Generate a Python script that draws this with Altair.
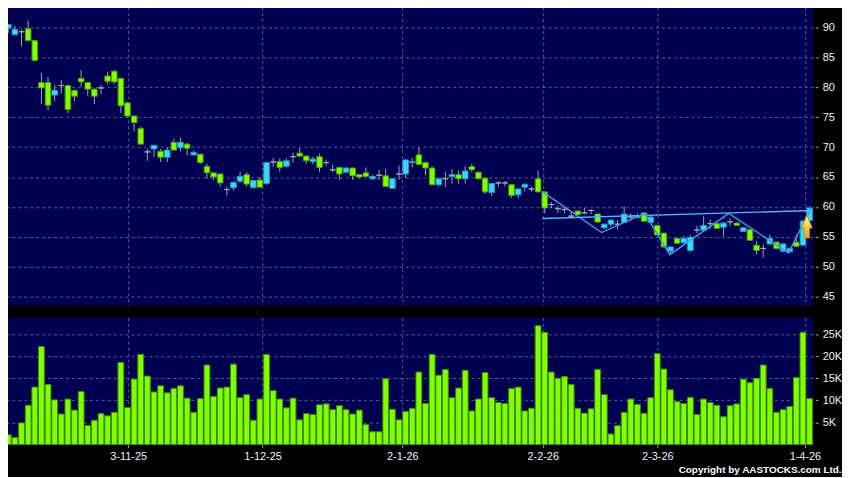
import altair as alt
import pandas as pd
import numpy as np

# ---------------- data ----------------
opens = [89.9, 88.8, 89.3, 89.8, 87.8, 80.8, 80.8, 78.7, 80.3, 80.3,
         79.5, 81.5, 80.8, 79.7, 79.9, 81.9, 82.7, 81.5, 77.4, 75.2,
         73.1, 69.2, 69.7, 69.3, 68.3, 70.8, 69.9, 70.5, 68.7, 68.8,
         66.8, 65.7, 65.5, 62.9, 63.2, 64.3, 65.4, 63.2, 64.5, 63.9,
         67.5, 67.6, 66.8, 68.4, 69.0, 68.5, 67.6, 68.4, 67.4, 66.2,
         66.6, 65.8, 66.5, 65.4, 65.7, 64.7, 65.3, 65.2, 63.1, 65.5,
         65.5, 67.4, 68.7, 67.4, 66.5, 63.7, 64.7, 65.1, 65.4, 64.7,
         66.75, 65.8, 64.8, 62.4, 64.0, 64.0, 63.7, 62.0, 63.3, 63.0,
         64.7, 62.5, 60.4, 59.7, 59.55, 58.45, 59.3, 59.0, 59.4, 58.8,
         56.5, 57.1, 57.1, 57.4, 58.3, 58.2, 59.0, 57.4, 56.9, 55.6,
         52.6, 54.7, 54.0, 52.7, 56.1, 56.1, 57.2, 57.2, 56.6, 57.5,
         57.3, 55.9, 56.2, 53.6, 53.05, 53.8, 54.1, 52.6, 52.5, 54.1,
         53.6, 57.7]
highs = [90.5, 90.3, 89.7, 91.2, 87.9, 82.4, 81.7, 80.4, 81.2, 80.4,
         79.6, 82.9, 80.9, 79.8, 80.4, 82.6, 82.9, 81.6, 77.6, 75.3,
         73.4, 69.7, 70.3, 69.7, 70.0, 71.4, 71.6, 70.7, 69.4, 68.9,
         67.2, 65.8, 65.6, 63.4, 64.3, 65.9, 65.8, 64.5, 65.0, 67.5,
         68.2, 68.1, 68.1, 69.1, 69.85, 68.6, 68.4, 68.9, 67.9, 67.1,
         66.7, 66.6, 66.6, 65.5, 66.6, 65.3, 66.2, 66.4, 64.8, 66.9,
         67.9, 68.2, 70.0, 67.6, 66.8, 64.8, 65.9, 66.3, 66.1, 66.8,
         67.2, 65.9, 64.9, 63.9, 64.3, 64.3, 63.8, 63.0, 64.0, 63.4,
         66.1, 62.6, 60.8, 60.2, 59.9, 59.2, 59.4, 59.8, 59.6, 58.9,
         57.2, 57.9, 57.8, 60.1, 58.9, 58.9, 59.1, 58.4, 57.0, 55.7,
         53.3, 54.9, 55.2, 55.3, 56.8, 58.4, 57.9, 57.3, 57.4, 58.1,
         57.4, 56.6, 56.3, 54.3, 53.7, 55.3, 54.2, 53.9, 53.1, 55.4,
         57.8, 60.1]
lows = [89.1, 88.7, 86.8, 87.7, 84.3, 77.2, 76.2, 77.7, 79.0, 75.7,
        77.7, 80.1, 78.6, 77.2, 78.8, 80.5, 80.5, 75.7, 75.1, 72.7,
        70.4, 67.7, 68.3, 67.5, 67.5, 69.4, 69.3, 68.6, 68.5, 67.2,
        64.7, 64.5, 63.4, 61.9, 62.7, 64.0, 63.4, 63.1, 63.2, 63.7,
        66.7, 65.9, 66.6, 67.4, 68.4, 67.2, 67.1, 65.8, 66.9, 65.8,
        64.5, 65.6, 64.5, 64.8, 65.0, 64.5, 64.5, 63.3, 63.0, 64.5,
        64.8, 66.6, 66.9, 65.3, 63.6, 63.4, 63.3, 63.9, 63.9, 63.9,
        65.8, 64.6, 62.2, 61.8, 63.4, 63.4, 61.5, 61.4, 62.6, 62.5,
        62.4, 58.9, 59.8, 59.0, 58.9, 58.0, 58.7, 58.8, 58.8, 57.4,
        56.3, 56.6, 56.2, 57.3, 57.7, 58.1, 57.5, 57.3, 55.2, 53.2,
        52.0, 53.8, 53.9, 52.4, 55.6, 55.9, 56.3, 56.3, 55.1, 56.8,
        56.8, 55.8, 54.3, 52.0, 51.5, 53.6, 52.9, 52.4, 52.3, 53.3,
        53.4, 57.6]
closes = [90.5, 89.7, 89.3, 87.8, 84.5, 79.9, 77.0, 79.5, 80.3, 76.3,
          78.5, 80.9, 79.7, 78.5, 79.9, 81.0, 80.9, 76.9, 75.2, 74.1,
          70.5, 69.2, 70.3, 68.3, 69.5, 69.5, 70.8, 69.8, 69.1, 67.4,
          65.7, 65.0, 64.0, 62.9, 64.1, 65.1, 63.8, 64.4, 63.3, 67.4,
          67.5, 66.6, 67.7, 68.4, 68.5, 67.7, 68.0, 66.6, 67.4, 66.2,
          65.5, 66.5, 65.2, 65.0, 65.1, 65.1, 65.3, 63.4, 64.7, 65.5,
          67.85, 67.6, 67.1, 66.5, 63.7, 64.7, 64.7, 65.4, 64.7, 66.0,
          66.2, 64.7, 62.5, 63.9, 64.0, 64.0, 61.9, 63.0, 63.75, 63.0,
          62.5, 59.8, 60.4, 59.7, 59.55, 58.45, 58.7, 59.0, 59.4, 57.45,
          57.1, 57.8, 57.1, 58.8, 58.3, 58.55, 57.6, 58.3, 55.3, 53.3,
          53.3, 53.9, 54.7, 54.9, 56.1, 56.9, 57.2, 56.4, 57.3, 57.5,
          56.9, 56.5, 54.4, 52.7, 53.05, 54.7, 53.0, 53.8, 53.05, 53.4,
          57.6, 59.8]
volume_k = [2.2, 1.6, 4.9, 8.9, 13.0, 22.2, 13.6, 10.1, 6.9, 10.3,
            7.8, 12.0, 4.3, 5.5, 7.0, 6.5, 7.3, 18.6, 8.4, 14.8,
            20.4, 15.5, 11.9, 13.3, 11.7, 12.7, 13.3, 10.5, 7.3, 10.4,
            18.0, 10.9, 12.8, 13.0, 18.2, 10.6, 11.3, 5.5, 10.3, 20.4,
            12.2, 10.3, 8.3, 10.5, 5.6, 7.0, 6.8, 9.0, 9.2, 7.9,
            8.8, 7.9, 6.9, 7.8, 4.5, 2.9, 2.9, 14.9, 8.0, 5.6,
            7.5, 8.2, 16.4, 9.3, 20.4, 15.7, 17.0, 10.6, 12.8, 16.8,
            7.6, 10.3, 16.3, 10.6, 9.5, 9.3, 12.7, 13.0, 7.6, 8.2,
            26.9, 25.4, 16.4, 15.0, 15.4, 13.6, 8.2, 7.1, 8.1, 17.0,
            11.3, 2.4, 4.3, 7.3, 10.3, 9.1, 7.1, 10.6, 20.6, 17.1,
            12.4, 9.7, 9.3, 10.7, 6.8, 10.3, 9.5, 8.9, 6.3, 8.8,
            9.2, 14.8, 14.0, 15.0, 18.0, 12.7, 7.3, 7.9, 8.6, 15.2,
            25.4, 10.4]

tick_pos = [18.1, 38.4, 59.5, 80.7, 98.0, 120.3]
tick_labels = ["3-11-25", "1-12-25", "2-1-26", "2-2-26", "2-3-26", "1-4-26"]
price_ticks = [45, 50, 55, 60, 65, 70, 75, 80, 85, 90]
vol_ticks = [5, 10, 15, 20, 25]
copyright_text = "Copyright by AASTOCKS.com Ltd."

# trend lines drawn on the chart
flat_x = [80.6, 121.55]
flat_y = [58.05, 59.4]
zig_x = [80.6, 89.6, 96.1, 99.9, 108.8, 117.8, 121.2]
zig_y = [62.6, 55.7, 58.9, 52.0, 58.9, 52.3, 59.6]
arrow_x = [120.6]
arrow_y = [56.7]

# ---------------- frames ----------------
n = len(opens)
df = pd.DataFrame({"i": np.arange(n), "o": opens, "h": highs, "l": lows,
                   "c": closes, "v": volume_k})
df["kind"] = np.where(df.c > df.o, "up", np.where(df.c < df.o, "down", "flat"))
df["x0"] = df.i - 0.42
df["x1"] = df.i + 0.42
df["vx0"] = df.i - 0.44
df["vx1"] = df.i + 0.44
df["top"] = df[["o", "c"]].max(axis=1)
df["bot"] = df[["o", "c"]].min(axis=1)

flat_df = pd.DataFrame({"x": flat_x, "y": flat_y})
zig_df = pd.DataFrame({"x": zig_x, "y": zig_y})
arrow_df = pd.DataFrame({"x": arrow_x, "y": arrow_y})

X_DOM = [-0.495, 121.55]
W = 814
font = "Liberation Sans"
label_expr = " : ".join(
    f"abs(datum.value - {p}) < 0.01 ? '{t}'" for p, t in zip(tick_pos, tick_labels)
) + " : ''"

xs_price = alt.Scale(domain=X_DOM, nice=False, zero=False)
ys_price = alt.Scale(domain=[43.49, 93.49], nice=False, zero=False)


def x_axis_price():
    return alt.Axis(values=tick_pos, labels=False, ticks=False, grid=True,
                    domain=False, title=None)


def y_axis_price():
    return alt.Axis(orient="right", values=price_ticks, grid=True, domain=False,
                    title=None, tickSize=3, offset=2, labelPadding=4,
                    labelOverlap=False, labelFlush=False)


def px(field):
    return alt.X(field, type="quantitative", scale=xs_price, axis=x_axis_price())


def py(field):
    return alt.Y(field, type="quantitative", scale=ys_price, axis=y_axis_price())


base = alt.Chart(df)

wicks = base.mark_rule(color="#a2a2b4", strokeWidth=1).encode(
    x=px("i"), y=py("l"), y2="h:Q",
)

bodies = base.mark_rect(strokeWidth=1).encode(
    x=px("x0"), x2="x1:Q",
    y=py("top"), y2="bot:Q",
    fill=alt.Fill("kind:N", legend=None,
                  scale=alt.Scale(domain=["up", "down", "flat"],
                                  range=["#36dcff", "#80ff00", "#a8a8b0"])),
    stroke=alt.Stroke("kind:N", legend=None,
                      scale=alt.Scale(domain=["up", "down", "flat"],
                                      range=["#2a95c0", "#4c9c00", "#a8a8b0"])),
)

flat_line = alt.Chart(flat_df).mark_line(color="#5ab0ff", strokeWidth=1.4, clip=True).encode(
    x=px("x"), y=py("y"))
zig_line = alt.Chart(zig_df).mark_line(color="#3d9cf0", strokeWidth=1.4, clip=True).encode(
    x=px("x"), y=py("y"))

arrow_shape = "M0,-1 L0.48,0.13 L0.23,0.13 L0.23,1 L-0.23,1 L-0.23,0.13 L-0.48,0.13 Z"
arrow_fill = alt.Gradient(gradient="linear",
                          stops=[alt.GradientStop(offset=0, color="#fff8a0"),
                                 alt.GradientStop(offset=1, color="#f2a400")],
                          x1=0, x2=0, y1=0, y2=1)
arrow = alt.Chart(arrow_df).mark_point(shape=arrow_shape, size=529, filled=True,
                                       fill=arrow_fill, stroke="#c98a00",
                                       strokeWidth=0.8, opacity=1).encode(
    x=px("x"), y=py("y"))

price = alt.layer(wicks, bodies, flat_line, zig_line, arrow).properties(width=W, height=301)

volume = base.mark_rect(fill="#80ff00", stroke="#3f8a00", strokeWidth=1).encode(
    x=alt.X("vx0:Q", scale=alt.Scale(domain=X_DOM, nice=False, zero=False),
            axis=alt.Axis(values=tick_pos, labelExpr=label_expr, grid=True, domain=False,
                          tickSize=3, labelPadding=3, labelOverlap=False, title=None)),
    x2="vx1:Q",
    y=alt.Y("v:Q", scale=alt.Scale(domain=[0, 28.76], nice=False, zero=True),
            axis=alt.Axis(orient="right", values=vol_ticks, labelExpr="datum.value + 'K'",
                          grid=True, domain=False, title=None, tickSize=3, offset=2,
                          labelPadding=4, labelOverlap=False, labelFlush=False)),
    y2=alt.Y2(datum=0),
).properties(width=W, height=128)

chart = alt.vconcat(price, volume, spacing=12).properties(
    padding={"left": -4, "top": -3, "right": 0, "bottom": 0},
    background="#000000",
    title=alt.TitleParams(text=copyright_text, orient="bottom", anchor="end",
                          frame="bounds", font=font, fontSize=10, fontWeight="bold",
                          color="#ffffff", offset=4, baseline="top"),
).configure_view(
    fill="#000050", strokeWidth=0
).configure_axis(
    labelFont=font, labelFontSize=11, labelColor="#f2f2f2",
    gridColor="#5c5c98", gridDash=[3, 3], gridWidth=1,
    tickColor="#a0a0a0", tickWidth=1, labelOverlap=False,
)

chart.save("out.html", embed_options={"renderer": "svg", "actions": False})
